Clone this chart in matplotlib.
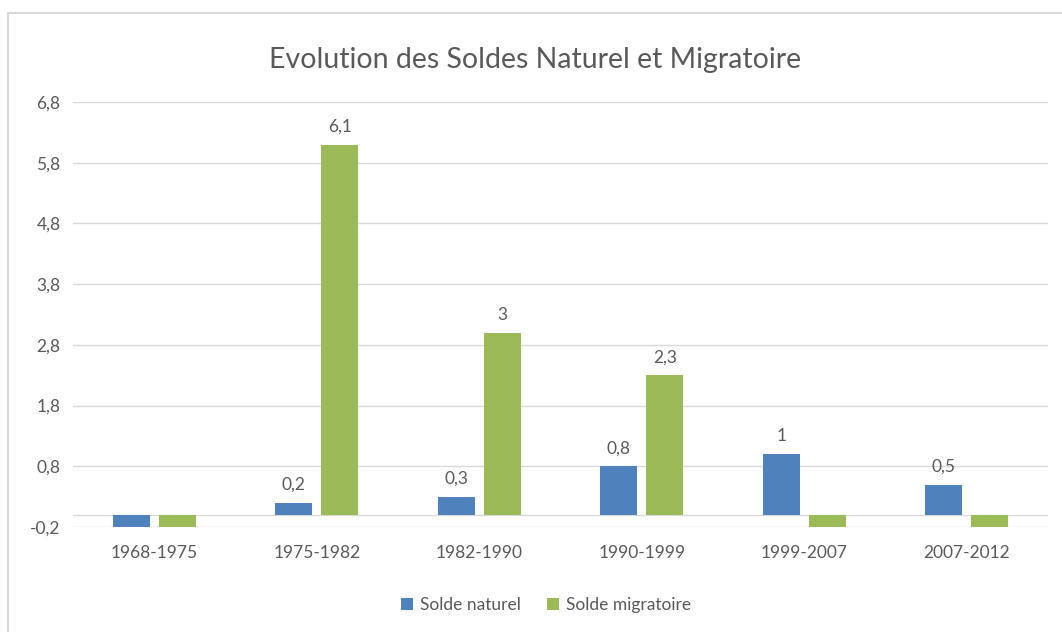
import matplotlib
matplotlib.use("Agg")
import matplotlib.pyplot as plt
import numpy as np
from matplotlib.patches import Rectangle

categories = ["1968-1975", "1975-1982", "1982-1990", "1990-1999", "1999-2007", "2007-2012"]
solde_naturel = [-0.2, 0.2, 0.3, 0.8, 1.0, 0.5]
solde_migratoire = [-0.2, 6.1, 3.0, 2.3, -0.2, -0.2]
series_names = ["Solde naturel", "Solde migratoire"]
yticks = [-0.2, 0.8, 1.8, 2.8, 3.8, 4.8, 5.8, 6.8]
title = "Evolution des Soldes Naturel et Migratoire"

plt.rcParams['font.family'] = ['Lato', 'DejaVu Sans']
txt = "#595959"
fs = 12.5

fig = plt.figure(figsize=(10.62, 6.32), dpi=100)
ax = fig.add_axes([73/1062, 1-527/632, (1048-73)/1062, (527-102)/632])

x = np.arange(len(categories))
w = 0.226
off = 0.142
b1 = ax.bar(x - off, solde_naturel, w, color="#4F81BD", label=series_names[0], zorder=3)
b2 = ax.bar(x + off, solde_migratoire, w, color="#9BBB59", label=series_names[1], zorder=3)

def fmt(v):
    s = ("%g" % v).replace(".", ",")
    return s

for bars, vals in ((b1, solde_naturel), (b2, solde_migratoire)):
    for r, v in zip(bars, vals):
        if v > 0:
            ax.annotate(fmt(v), (r.get_x() + r.get_width()/2, v), xytext=(0, 7),
                        textcoords="offset points", ha="center", va="bottom",
                        fontsize=fs, color=txt)

ax.set_xlim(-0.5, len(categories) - 0.5)
ax.set_ylim(-0.2, 6.8)
ax.set_yticks(yticks)
ax.set_yticklabels([fmt(t) for t in yticks])
ax.set_xticks(x)
ax.set_xticklabels(categories)
ax.tick_params(length=0, labelsize=fs, colors=txt)
ax.tick_params(axis='x', pad=13)
ax.tick_params(axis='y', pad=9)
for s in ax.spines.values():
    s.set_visible(False)
ax.grid(axis='y', color="#D9D9D9", linewidth=1, zorder=0)
ax.axhline(0, color="#D9D9D9", linewidth=1, zorder=1)

fig.text(535/1062, 1-60/632, title, ha="center", va="center", fontsize=20.5, color=txt)

leg = fig.legend(handles=[b1, b2], labels=series_names, loc="center",
                 bbox_to_anchor=(546/1062, 1-605/632), ncol=2, frameon=False,
                 fontsize=fs, handlelength=0.7, handleheight=0.7, columnspacing=1.5,
                 handletextpad=0.4, labelcolor=txt)

fig.patches.append(Rectangle((8/1062, -0.1), 1.2, 1 - 13/632 + 0.1, transform=fig.transFigure,
                             fill=False, edgecolor="#D9D9D9", linewidth=1.5))

fig.savefig("out.png", dpi=100, facecolor="white")
